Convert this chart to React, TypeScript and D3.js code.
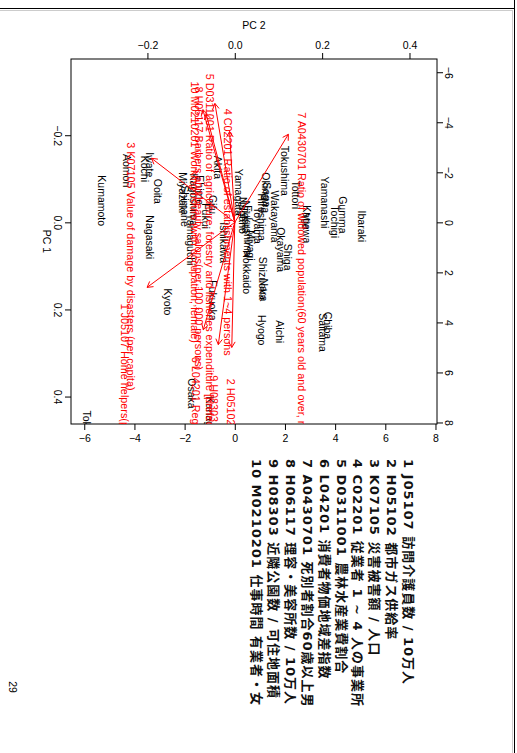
import React, { useEffect, useRef } from "react";
import * as d3 from "d3";

const prefectures = [
  "Hokkaido", "Aomori", "Iwate", "Miyagi", "Akita", "Yamagata", "Fukushima",
  "Ibaraki", "Tochigi", "Gumma", "Saitama", "Chiba", "Tokyo", "Kanagawa",
  "Niigata", "Toyama", "Ishikawa", "Fukui", "Yamanashi", "Nagano", "Gifu",
  "Shizuoka", "Aichi", "Mie", "Shiga", "Kyoto", "Osaka", "Hyogo", "Nara",
  "Wakayama", "Tottori", "Shimane", "Okayama", "Hiroshima", "Yamaguchi",
  "Tokushima", "Kagawa", "Ehime", "Kochi", "Fukuoka", "Saga", "Nagasaki",
  "Kumamoto", "Ooita", "Miyazaki", "Kagoshima", "Okinawa",
];
const pc1 = [
  0.064, -0.157, -0.161, 0.018, -0.153, -0.123, -0.039,
  -0.027, -0.039, -0.06, 0.209, 0.205, 0.432, 0.4,
  -0.05, -0.035, 0.0, -0.044, -0.105, -0.058, -0.063,
  0.079, 0.225, -0.023, 0.049, 0.152, 0.358, 0.213, 0.129,
  -0.073, -0.096, -0.085, 0.011, -0.066, -0.02,
  -0.176, -0.039, -0.108, -0.153, 0.133, -0.092, -0.016,
  -0.108, -0.1, -0.115, -0.112, -0.115,
];
const pc2 = [
  0.027, -0.247, -0.195, 0.037, -0.039, 0.009, 0.03,
  0.291, 0.229, 0.247, 0.202, 0.213, -0.34, -0.057,
  0.025, 0.053, -0.025, -0.066, 0.206, 0.018, -0.05,
  0.064, 0.103, 0.163, 0.121, -0.153, -0.099, 0.062, 0.066,
  0.092, 0.14, -0.115, 0.105, 0.062, -0.101,
  0.115, 0.165, -0.08, -0.206, -0.05, 0.073, -0.195,
  -0.305, -0.176, -0.119, -0.094, 0.071,
];

// variable loadings
const varLabels = [
  "1 J05107 Home helpers(per 100,000 persons)",
  "2 H05102 Diffusion rate of city gas",
  "3 K07105 Value of damage by disasters (per capita)",
  "4 C02201 Ratio of establishments with 1~4 persons",
  "5 D0311001 Ratio of agriculture, forestry and fisheries expenditure [prefecture]",
  "6 L04201 Regional difference index of consumer prices",
  "7 A0430701 Ratio of widowed population(60 years old and over, male)",
  "8 H06117 Barbers and beauty salons(per 100,000 persons)",
  "9 H08303 Number of neighborhood parks (per inhabitable area)",
  "10 M0210201 Working hours (with occupation, female)",
];
const load1 = [3.25, 6.25, -3.2, -4.54, -5.94, 5.37, -4.4, -5.43, 6.11, -5.63];
const load2 = [-4.37, -0.15, -4.15, -0.26, -0.99, -1.57, 2.67, -1.43, -0.82, -1.59];

const legendLines = [
  "1 J05107 訪問介護員数 / 10万人",
  "2 H05102 都市ガス供給率",
  "3 K07105 災害被害額 / 人口",
  "4 C02201 従業者 1 ~ 4 人の事業所",
  "5 D0311001 農林水産業費割合",
  "6 L04201 消費者物価地域差指数",
  "7 A0430701 死別者割合60歳以上男",
  "8 H06117 理容・美容所数 / 10万人",
  "9 H08303 近隣公園数 / 可住地面積",
  "10 M0210201 仕事時間 有業者・女",
];

const obsTicks = [-0.2, 0, 0.2, 0.4];
const varTicks = [-6, -4, -2, 0, 2, 4, 6, 8];

function App() {
  const ref = useRef(null);

  useEffect(() => {
    const svg = d3.select(ref.current);
    svg.selectAll("*").remove();

    const W = 517, H = 753;
    const box = { left: 71, right: 437, top: 59, bottom: 424 };
    const dom = [-0.375, 0.463];
    const ratio = 17.41;
    const font = "'Liberation Sans', Arial, sans-serif";

    // page is rotated: PC2 runs left->right, PC1 runs top->bottom
    const x = d3.scaleLinear().domain(dom).range([box.left, box.right]);
    const y = d3.scaleLinear().domain(dom).range([box.top, box.bottom]);
    const xv = d3.scaleLinear().domain(dom.map((d) => d * ratio)).range([box.left, box.right]);
    const yv = d3.scaleLinear().domain(dom.map((d) => d * ratio)).range([box.top, box.bottom]);

    svg.attr("width", W).attr("height", H);
    svg.append("rect").attr("width", W).attr("height", H).attr("fill", "white");

    // page edges
    svg.append("line").attr("x1", 0).attr("x2", 514).attr("y1", 8.5).attr("y2", 8.5).attr("stroke", "#000");
    svg.append("line").attr("x1", 0).attr("x2", 512).attr("y1", 10.5).attr("y2", 10.5).attr("stroke", "#ccc");
    svg.append("line").attr("x1", 514.5).attr("x2", 514.5).attr("y1", 0).attr("y2", H).attr("stroke", "#000");
    svg.append("line").attr("x1", 512.5).attr("x2", 512.5).attr("y1", 10).attr("y2", H).attr("stroke", "#ccc");

    svg.append("defs").append("clipPath").attr("id", "plotclip")
      .append("rect").attr("x", box.left).attr("y", box.top)
      .attr("width", box.right - box.left).attr("height", box.bottom - box.top);

    const fmt1 = (d) => d3.format(".1f")(d);

    const top = svg.append("g").attr("transform", `translate(0,${box.top})`)
      .call(d3.axisTop(x).tickValues(obsTicks).tickFormat(fmt1).tickSize(6).tickSizeOuter(0));
    top.selectAll("text").attr("y", -13.5).attr("dy", "0.35em");

    const left = svg.append("g").attr("transform", `translate(${box.left},0)`)
      .call(d3.axisLeft(y).tickValues(obsTicks).tickFormat(fmt1).tickSize(6).tickSizeOuter(0));
    left.selectAll("text").attr("x", 0).attr("dy", "0.35em").attr("text-anchor", "middle")
      .attr("transform", "translate(-13,0) rotate(90)");

    const bottom = svg.append("g").attr("transform", `translate(0,${box.bottom})`)
      .call(d3.axisBottom(xv).tickValues(varTicks).tickSize(6).tickSizeOuter(0));
    bottom.selectAll("text").attr("y", 14.5).attr("dy", "0.35em");

    const right = svg.append("g").attr("transform", `translate(${box.right},0)`)
      .call(d3.axisRight(yv).tickValues(varTicks).tickSize(6).tickSizeOuter(0));
    right.selectAll("text").attr("x", 0).attr("dy", "0.35em").attr("text-anchor", "middle")
      .attr("transform", "translate(12,0) rotate(90)");

    [top, left, bottom, right].forEach((g) => {
      g.select(".domain").remove();
      g.attr("font-family", font).attr("font-size", 10.5);
      g.selectAll("line").attr("stroke", "#000");
      g.selectAll("text").attr("fill", "#000");
    });

    svg.append("rect").attr("x", box.left).attr("y", box.top)
      .attr("width", box.right - box.left).attr("height", box.bottom - box.top)
      .attr("fill", "none").attr("stroke", "#000");

    svg.append("text").attr("x", (box.left + box.right) / 2).attr("y", 25).attr("dy", "0.35em")
      .attr("text-anchor", "middle").attr("font-family", font).attr("font-size", 10.5).text("PC 2");
    svg.append("text").attr("transform", `translate(47,${(box.top + box.bottom) / 2}) rotate(90)`)
      .attr("dy", "0.35em").attr("text-anchor", "middle")
      .attr("font-family", font).attr("font-size", 10.5).text("PC 1");

    const plot = svg.append("g").attr("clip-path", "url(#plotclip)");

    // observation labels, text starts at the score
    plot.selectAll(".obs").data(prefectures).enter().append("text")
      .attr("transform", (d, i) => `translate(${x(pc2[i])},${y(pc1[i])}) rotate(90)`)
      .attr("dy", "0.35em").attr("font-family", font).attr("font-size", 10.5)
      .attr("fill", "#000").text((d) => d);

    // variable arrows at 0.8 of the loading
    const x0 = xv(0), y0 = yv(0);
    const arrows = plot.append("g").attr("stroke", "#ff0000").attr("fill", "none").attr("stroke-width", 1);
    varLabels.forEach((lab, i) => {
      const tx = xv(load2[i] * 0.8), ty = yv(load1[i] * 0.8);
      const ang = Math.atan2(ty - y0, tx - x0);
      const L = 6.5, a = Math.PI / 6;
      const p = d3.path();
      p.moveTo(x0, y0);
      p.lineTo(tx, ty);
      p.moveTo(tx - L * Math.cos(ang - a), ty - L * Math.sin(ang - a));
      p.lineTo(tx, ty);
      p.lineTo(tx - L * Math.cos(ang + a), ty - L * Math.sin(ang + a));
      arrows.append("path").attr("d", p.toString());
    });

    plot.selectAll(".var").data(varLabels).enter().append("text")
      .attr("transform", (d, i) => `translate(${xv(load2[i])},${yv(load1[i])}) rotate(90)`)
      .attr("dy", "0.35em").attr("font-family", font).attr("font-size", 10.8)
      .attr("fill", "#ff0000").text((d) => d);

    // legend block (rotated with the page)
    svg.selectAll(".leg").data(legendLines).enter().append("text")
      .attr("transform", (d, i) => `translate(${408.5 - i * 16.83},459) rotate(90)`)
      .attr("dy", "0.35em")
      .attr("font-family", "'DejaVu Sans', 'Noto Sans CJK JP', sans-serif")
      .attr("font-weight", "bold").attr("font-size", 13).attr("letter-spacing", 1)
      .attr("fill", "#111")
      .text((d) => d);

    svg.append("text").attr("transform", "translate(13,687) rotate(90)")
      .attr("dy", "0.35em").attr("text-anchor", "middle")
      .attr("font-family", font).attr("font-size", 10.5).text("29");
  }, []);

  return (
    <div style={{ position: "absolute", left: 0, top: 0 }}>
      <svg ref={ref}></svg>
    </div>
  );
}

export default App;
